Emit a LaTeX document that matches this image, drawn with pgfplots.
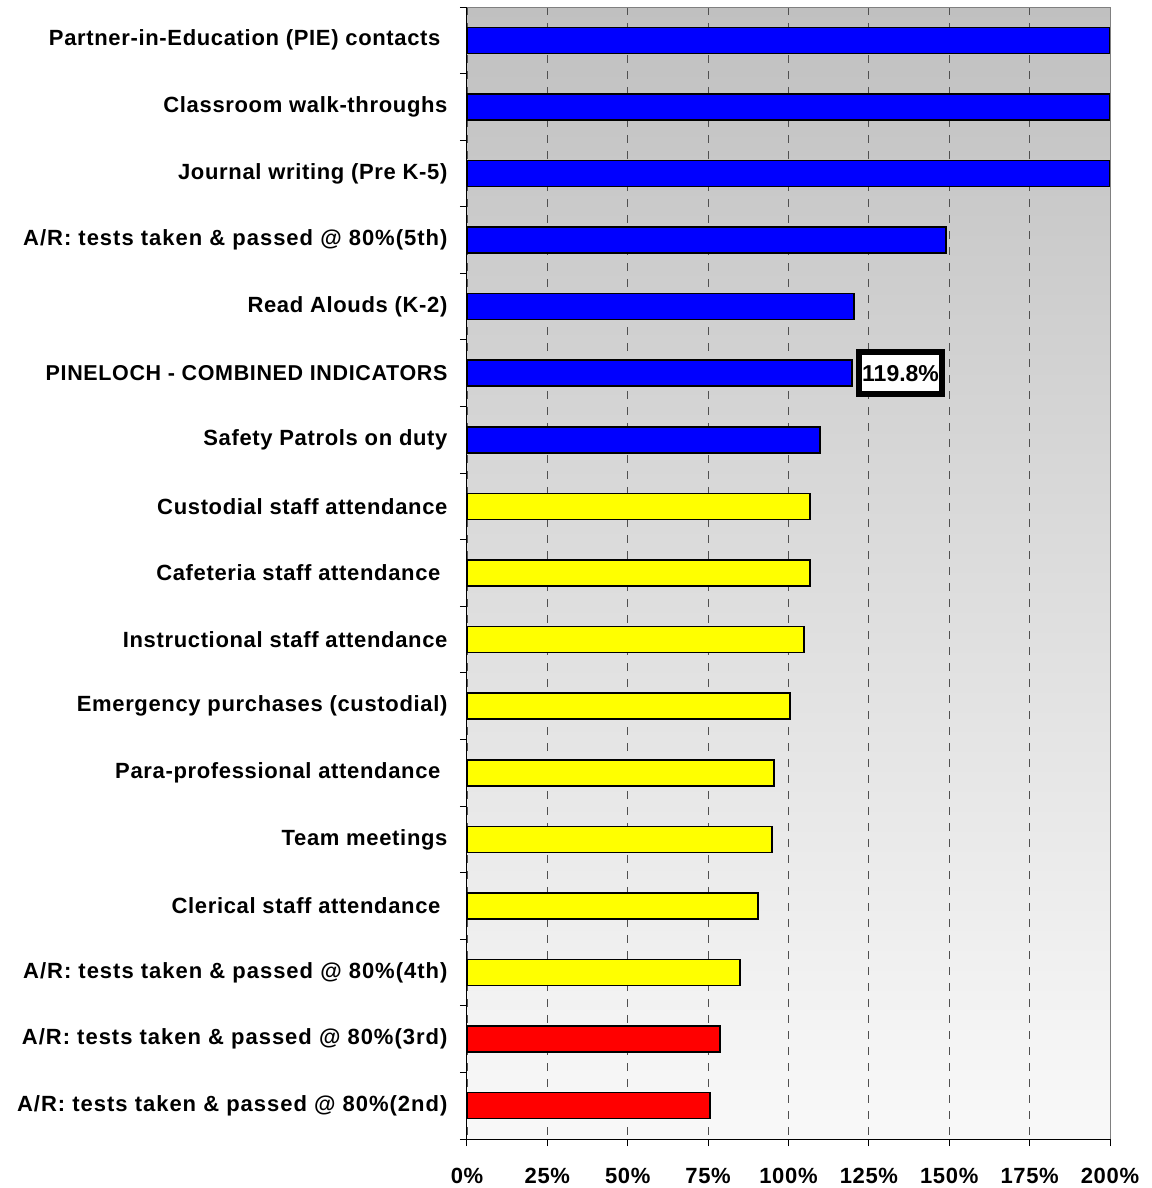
\documentclass[border=0pt]{standalone}
\usepackage{pgfplots}
\pgfplotsset{compat=1.18}
\usepackage{fontspec}
\setmainfont{Liberation Sans}
\newfontfamily\lab[LetterSpace=3]{Liberation Sans}
\newfontfamily\labw[LetterSpace=4.5]{Liberation Sans}
\definecolor{barblue}{RGB}{0,0,255}
\definecolor{baryellow}{RGB}{255,255,0}
\definecolor{barred}{RGB}{255,0,0}
\definecolor{gridgray}{RGB}{80,80,80}
\definecolor{bgtop}{RGB}{192,192,192}
\definecolor{bgbot}{RGB}{249,249,249}
\begin{document}
\begin{tikzpicture}
\useasboundingbox (-467pt,-49pt) rectangle (684pt,1139pt);
\begin{axis}[
  at={(0,0)}, anchor=south west,
  scale only axis, width=643pt, height=1132pt,
  xmin=0, xmax=200, ymin=-0.5, ymax=16.5,
  y dir=reverse,
  axis lines=left, axis line style={-, black, line width=1pt},
  axis background/.style={top color=bgtop, bottom color=bgbot},
  xbar, bar width=26pt, bar shift=0pt,
  xtick={0,25,...,200},
  xticklabels={0\%,25\%,50\%,75\%,100\%,125\%,150\%,175\%,200\%},
  xticklabel style={font=\fontsize{22}{26}\selectfont\lab\bfseries, yshift=-19pt},
  xmajorgrids,
  grid style={gridgray, line width=0.9pt, dash pattern=on 8pt off 8pt},
  tick align=outside, major tick length=7pt,
  tick style={black, line width=1pt},
  ytick={-0.5,0.5,...,16.5}, yticklabels={},
  extra y ticks={0,...,16},
  extra y tick style={major tick length=0pt, grid=none},
  extra y tick labels={
    Partner-in-Education (PIE) contacts\kern7pt,
    Classroom walk-throughs,
    Journal writing (Pre K-5),
    {\labw A/R: tests taken \& passed @ 80\%(5th)},
    Read Alouds (K-2),
    {\fontsize{21.5}{26}\selectfont PINELOCH - COMBINED INDICATORS},
    Safety Patrols on duty,
    Custodial staff attendance,
    Cafeteria staff attendance\kern7pt,
    Instructional staff attendance,
    Emergency purchases (custodial),
    Para-professional attendance\kern7pt,
    Team meetings,
    Clerical staff attendance\kern7pt,
    {\labw A/R: tests taken \& passed @ 80\%(4th)},
    {\labw A/R: tests taken \& passed @ 80\%(3rd)},
    {\labw A/R: tests taken \& passed @ 80\%(2nd)}},
  yticklabel style={font=\fontsize{22}{26}\selectfont\lab\bfseries, xshift=-16pt},
  clip=false,
]
\addplot[fill=barblue, draw=black, line width=1.5pt] coordinates {
  (200,0) (200,1) (200,2) (149.0,3) (120.4,4) (119.8,5) (109.8,6)};
\addplot[fill=baryellow, draw=black, line width=1.5pt] coordinates {
  (106.7,7) (106.7,8) (104.8,9) (100.5,10) (95.5,11) (94.9,12) (90.5,13) (84.9,14)};
\addplot[fill=barred, draw=black, line width=1.5pt] coordinates {
  (78.7,15) (75.6,16)};
\draw[gray, line width=1pt] (rel axis cs:0,1) -- (rel axis cs:1,1) -- (rel axis cs:1,0);
\node[draw=black, line width=6pt, fill=white, anchor=west, inner xsep=3.5pt, inner ysep=13pt,
  font=\fontsize{23}{27}\selectfont\bfseries] at (axis cs:120.9,5) {119.8\%};
\end{axis}
\end{tikzpicture}
\end{document}
